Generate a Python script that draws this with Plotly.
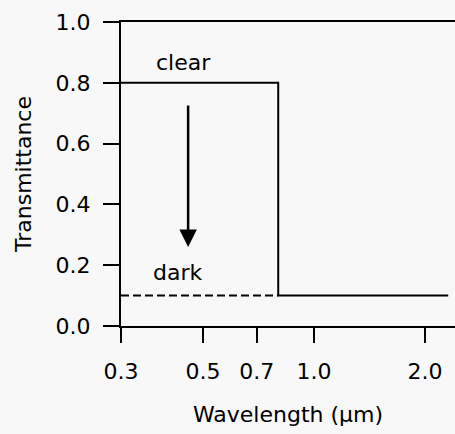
import math
import plotly.graph_objects as go

# data
clear_x = [0.3, 0.8, 0.8, 2.31]
clear_y = [0.8, 0.8, 0.1, 0.1]
dark_x = [0.3, 0.8]
dark_y = [0.1, 0.1]
arrow_x = 0.456
arrow_from = 0.73
arrow_to = 0.26
label_text = ["clear", "dark"]
label_x = [0.442, 0.428]
label_y = [0.866, 0.177]
x_ticks = [0.3, 0.5, 0.7, 1.0, 2.0]
x_ticktext = ["0.3", "0.5", "0.7", "1.0", "2.0"]
y_ticks = [0.0, 0.2, 0.4, 0.6, 0.8, 1.0]

FONT = "DejaVu Sans"
BG = "#f8f8f8"

fig = go.Figure()
fig.add_trace(go.Scatter(x=clear_x, y=clear_y, mode="lines",
                         line=dict(color="black", width=2), cliponaxis=False,
                         showlegend=False, hoverinfo="skip"))
fig.add_trace(go.Scatter(x=dark_x, y=dark_y, mode="lines",
                         line=dict(color="black", width=2, dash="8px,4px"), cliponaxis=False,
                         showlegend=False, hoverinfo="skip"))

fig.add_annotation(x=math.log10(arrow_x), y=arrow_to, ax=math.log10(arrow_x), ay=arrow_from,
                   xref="x", yref="y", axref="x", ayref="y", text="", showarrow=True,
                   arrowhead=2, arrowsize=1.4, arrowwidth=2.5, arrowcolor="black")
for t, lx, ly in zip(label_text, label_x, label_y):
    fig.add_annotation(x=math.log10(lx), y=ly, xref="x", yref="y", text=t, showarrow=False,
                       font=dict(family=FONT, size=22, color="black"))

fig.update_layout(
    width=455, height=434,
    margin=dict(l=121, r=0, t=22, b=108),
    paper_bgcolor=BG, plot_bgcolor=BG,
    font=dict(family=FONT, size=22, color="black"),
)
fig.update_xaxes(type="log", range=[math.log10(0.3), math.log10(2.41)],
                 tickvals=x_ticks, ticktext=x_ticktext, automargin=False,
                 showgrid=False, zeroline=False,
                 showline=True, linecolor="black", linewidth=2, mirror=True,
                 ticks="outside", ticklen=15, tickwidth=2, tickcolor="black",
                 ticklabelstandoff=10,
                 title=dict(text="Wavelength (µm)", standoff=23,
                            font=dict(family=FONT, size=22)))
fig.update_yaxes(range=[0, 1], tickvals=y_ticks, tickformat=".1f", automargin=False,
                 showgrid=False, zeroline=False,
                 showline=True, linecolor="black", linewidth=2,
                 ticks="outside", ticklen=16, tickwidth=2, tickcolor="black",
                 ticklabelstandoff=8,
                 title=dict(text="Transmittance", standoff=18,
                            font=dict(family=FONT, size=22)))

fig.write_html("out.html", config={"displayModeBar": False},
               post_script="document.body.style.margin='0';document.body.style.overflow='hidden';")
